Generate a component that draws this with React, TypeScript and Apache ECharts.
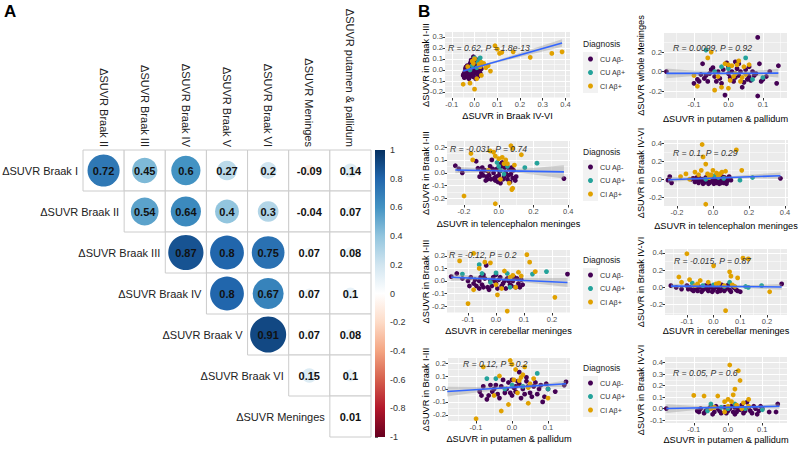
import React, { useEffect, useRef } from "react";
import * as echarts from "echarts";

const FONT = '"Liberation Sans", Arial, Helvetica, sans-serif';

// ---------- Panel A: correlation matrix ----------
const corrRowLabels = ["ΔSUVR Braak I", "ΔSUVR Braak II", "ΔSUVR Braak III", "ΔSUVR Braak IV", "ΔSUVR Braak V", "ΔSUVR Braak VI", "ΔSUVR Meninges"];
const corrColLabels = ["ΔSUVR Braak II", "ΔSUVR Braak III", "ΔSUVR Braak IV", "ΔSUVR Braak V", "ΔSUVR Braak VI", "ΔSUVR Meninges", "ΔSUVR putamen & pallidum"];
const corrValues = [
  [0.72, 0.45, 0.6, 0.27, 0.2, -0.09, 0.14],
  [0.54, 0.64, 0.4, 0.3, -0.04, 0.07],
  [0.87, 0.8, 0.75, 0.07, 0.08],
  [0.8, 0.67, 0.07, 0.1],
  [0.91, 0.07, 0.08],
  [0.15, 0.1],
  [0.01],
];
const colorbarRange = [-1, 1];
const RDBU = ["#67001F", "#B2182B", "#D6604D", "#F4A582", "#FDDBC7", "#FFFFFF", "#D1E5F0", "#92C5DE", "#4393C3", "#2166AC", "#053061"];

// ---------- Panel B: scatter data ----------
const groupNames = ["CU Aβ-", "CU Aβ+", "CI Aβ+"];
const groupColors = ["#440154", "#24A39B", "#E0A100"];

// 1: Braak IV-VI (x) vs Braak I-III (y)
const p1CUneg = [[-0.05,-0.05],[-0.045,-0.03],[-0.04,-0.06],[-0.035,-0.02],[-0.03,0.0],[-0.03,-0.04],[-0.025,0.02],[-0.02,-0.06],[-0.02,0.05],[-0.015,-0.02],[-0.01,0.03],[-0.01,-0.05],[-0.005,0.12],[-0.005,0.0],[0.0,-0.03],[0.0,0.06],[0.005,0.02],[0.01,-0.01],[0.01,0.08],[0.015,-0.06],[0.02,0.03],[0.02,0.0],[0.025,-0.03],[-0.04,0.01],[-0.045,-0.07],[0.03,0.01],[-0.015,0.09],[0.005,-0.08],[-0.025,-0.08],[0.01,0.05],[-0.035,-0.05],[0.0,0.03],[-0.02,-0.01],[0.015,0.02],[-0.008,-0.035],[-0.048,-0.04],[-0.042,-0.015],[-0.038,0.025],[-0.028,-0.065],[-0.022,-0.03],[-0.012,0.015],[-0.006,-0.06],[0.004,0.045],[0.012,-0.04],[0.018,0.06],[0.022,-0.015],[0.028,0.035],[-0.018,0.065],[0.008,0.095],[-0.032,0.04]];
const p1CUpos = [[0.0,0.11],[0.02,0.09],[-0.01,0.04],[0.01,0.02],[0.03,0.05],[-0.02,0.0],[0.015,0.07],[0.025,0.11]];
const p1CIpos = [[0.09,0.22],[0.1,0.19],[0.11,0.15],[0.12,0.16],[0.17,0.165],[0.245,0.115],[0.34,0.15],[0.385,0.165],[-0.05,-0.13],[-0.02,-0.12],[0.0,-0.175],[0.07,-0.01],[0.05,0.02],[0.03,0.07],[0.02,0.05],[0.01,-0.08],[-0.01,0.08],[0.04,0.06],[0.0,0.1],[0.03,-0.05],[-0.03,0.03],[0.06,0.04],[0.025,0.03],[-0.005,0.06]];
const p1Fit = [[-0.05,-0.01],[0.385,0.245]];
const p1Band = [[-0.05,-0.022,0.002],[0.0,0.012,0.026],[0.1,0.067,0.089],[0.2,0.118,0.156],[0.3,0.168,0.222],[0.385,0.21,0.28]];

// 2: putamen & pallidum (x) vs whole meninges (y)
const p2CUneg = [[-0.18,0.0],[-0.09,-0.08],[-0.08,-0.03],[-0.075,0.08],[-0.07,-0.07],[-0.06,-0.1],[-0.05,0.02],[-0.04,-0.05],[-0.03,0.0],[-0.02,-0.12],[-0.01,-0.24],[0.0,-0.02],[0.0,0.05],[0.01,0.0],[0.02,-0.06],[0.02,0.1],[0.03,-0.04],[0.04,-0.16],[0.05,0.02],[0.055,-0.08],[0.06,-0.05],[0.07,0.0],[0.08,-0.02],[0.085,0.35],[0.09,0.08],[0.1,-0.08],[0.11,-0.05],[0.14,-0.12],[0.145,0.06],[0.085,-0.25],[-0.1,-0.12],[-0.005,0.09],[0.035,0.0],[0.065,-0.09],[-0.055,-0.02],[0.015,-0.1],[-0.085,-0.1],[-0.065,-0.04],[-0.045,0.04],[-0.025,-0.07],[-0.015,0.02],[0.005,-0.06],[0.025,0.03],[0.045,-0.11],[0.075,-0.04],[0.095,-0.1],[0.12,0.0],[0.06,0.05],[-0.035,-0.1],[0.03,0.08]];
const p2CUpos = [[-0.065,0.22],[-0.04,0.0],[0.0,0.03],[0.02,-0.02],[0.05,0.14],[0.07,-0.08],[0.1,-0.06],[-0.02,0.05]];
const p2CIpos = [[-0.1,-0.04],[-0.09,-0.15],[-0.06,0.14],[-0.04,-0.19],[-0.02,-0.16],[-0.01,0.08],[0.0,0.07],[0.005,-0.09],[0.01,0.06],[0.015,-0.05],[0.02,-0.02],[0.025,0.07],[0.03,0.11],[0.04,-0.06],[0.045,0.05],[0.05,-0.03],[-0.05,0.2],[0.06,0.07],[-0.03,-0.05],[0.035,-0.1],[0.0,-0.17]];
const p2Fit = [[-0.18,-0.018],[0.145,-0.016]];
const p2Band = [[-0.18,-0.068,0.032],[-0.1,-0.045,0.01],[0.0,-0.034,0.0],[0.1,-0.048,0.014],[0.145,-0.06,0.028]];

// 3: telencephalon meninges (x) vs Braak I-III (y)
const p3CUneg = [[-0.25,0.055],[-0.23,0.03],[-0.21,0.0],[-0.12,0.035],[-0.1,0.0],[-0.09,-0.02],[-0.08,0.02],[-0.07,-0.03],[-0.06,0.01],[-0.05,0.05],[-0.045,-0.05],[-0.04,0.1],[-0.03,0.0],[-0.02,-0.06],[-0.01,0.03],[0.0,-0.02],[0.01,-0.08],[0.02,0.08],[0.03,-0.03],[0.04,0.0],[0.05,-0.05],[0.06,0.03],[0.07,-0.01],[0.08,-0.04],[0.085,0.02],[0.1,-0.03],[-0.13,0.09],[0.375,-0.045],[0.015,0.05],[-0.025,-0.04],[0.045,0.06],[0.065,-0.07],[-0.065,-0.05],[-0.095,0.04],[-0.075,-0.06],[-0.055,-0.02],[-0.035,0.03],[-0.015,-0.03],[0.005,0.01],[0.025,-0.05],[0.035,0.04],[0.055,-0.02],[0.075,0.04],[0.095,-0.06],[-0.005,-0.07],[0.012,0.07],[-0.11,-0.03]];
const p3CUpos = [[-0.01,0.08],[0.01,0.02],[0.03,-0.01],[0.05,0.05],[0.15,0.04],[0.22,0.075],[0.0,0.05]];
const p3CIpos = [[-0.16,0.15],[-0.15,0.1],[-0.2,-0.18],[-0.05,0.17],[-0.03,0.16],[-0.02,-0.24],[0.0,0.11],[0.02,0.12],[0.03,0.07],[0.05,0.07],[0.07,0.21],[0.08,0.19],[0.13,0.14],[0.08,-0.12],[0.075,-0.13],[0.06,-0.08],[0.04,0.1],[-0.06,0.02],[0.01,-0.05],[0.09,0.06],[-0.02,0.13]];
const p3Fit = [[-0.25,0.022],[0.375,0.007]];
const p3Band = [[-0.25,-0.004,0.048],[-0.1,0.006,0.034],[0.0,0.007,0.029],[0.1,0.001,0.029],[0.2,-0.014,0.038],[0.375,-0.045,0.059]];

// 4: telencephalon meninges (x) vs Braak IV-VI (y)
const p4CUneg = [[-0.25,-0.01],[-0.24,0.03],[-0.23,-0.04],[-0.12,0.0],[-0.1,-0.03],[-0.09,0.02],[-0.08,-0.04],[-0.07,-0.01],[-0.06,0.0],[-0.05,-0.04],[-0.04,0.02],[-0.03,-0.02],[-0.02,-0.04],[-0.01,0.0],[0.0,-0.03],[0.01,0.01],[0.02,-0.04],[0.03,0.0],[0.04,-0.02],[0.05,0.03],[0.06,-0.04],[0.07,0.0],[0.08,-0.02],[0.09,0.03],[0.375,0.01],[-0.015,0.04],[0.035,-0.05],[0.065,0.02],[-0.045,-0.02],[0.015,-0.02],[-0.095,-0.01],[-0.075,0.01],[-0.055,-0.05],[-0.035,0.0],[-0.025,-0.05],[-0.005,-0.02],[0.005,-0.05],[0.025,0.02],[0.045,-0.04],[0.055,0.0],[0.075,-0.05],[0.085,0.01],[-0.11,0.01],[0.1,-0.01]];
const p4CUpos = [[-0.02,0.02],[0.01,0.04],[0.03,0.02],[0.06,0.01],[0.15,-0.01],[0.22,0.02],[-0.04,0.0]];
const p4CIpos = [[-0.18,0.03],[-0.15,0.06],[-0.13,0.0],[-0.1,0.08],[-0.08,0.05],[-0.06,0.39],[-0.055,0.25],[-0.04,0.17],[-0.03,0.06],[-0.02,0.02],[0.0,0.1],[0.02,0.07],[0.03,0.04],[0.05,0.08],[0.07,0.09],[0.13,0.33],[0.16,0.1],[-0.04,-0.28],[-0.01,0.05],[0.04,0.06],[-0.065,0.1]];
const p4Fit = [[-0.25,-0.005],[0.375,0.04]];
const p4Band = [[-0.25,-0.035,0.025],[-0.1,-0.008,0.02],[0.0,0.0,0.024],[0.1,0.006,0.034],[0.2,0.01,0.05],[0.375,0.005,0.075]];

// 5: cerebellar meninges (x) vs Braak I-III (y)
const p5CUneg = [[-0.16,0.035],[-0.14,0.06],[-0.12,0.02],[-0.1,0.0],[-0.09,0.03],[-0.08,-0.02],[-0.07,-0.04],[-0.06,0.0],[-0.05,-0.03],[-0.04,0.02],[-0.035,0.125],[-0.03,-0.05],[-0.02,0.0],[-0.01,0.03],[0.0,-0.02],[0.01,0.01],[0.02,-0.04],[0.03,0.0],[0.04,0.02],[0.05,-0.03],[0.06,0.0],[0.07,-0.05],[0.08,-0.02],[0.09,0.01],[0.255,0.055],[-0.06,-0.06],[0.0,0.05],[0.065,0.03],[-0.025,-0.07],[0.085,-0.05],[-0.045,0.05],[-0.095,-0.04],[-0.075,0.01],[-0.055,0.03],[-0.045,-0.05],[-0.015,-0.04],[-0.005,0.0],[0.005,-0.06],[0.015,0.03],[0.025,-0.02],[0.035,-0.06],[0.045,0.0],[0.055,-0.04],[0.075,0.02],[0.095,-0.03]];
const p5CUpos = [[-0.12,0.055],[-0.06,0.13],[-0.05,0.06],[0.0,0.065],[0.04,0.06],[0.05,-0.05],[0.13,0.055],[0.18,0.075],[-0.02,-0.01]];
const p5CIpos = [[-0.13,0.16],[-0.1,-0.18],[-0.08,0.22],[-0.06,0.1],[-0.04,0.15],[-0.02,0.145],[0.0,-0.03],[0.005,-0.11],[0.03,0.08],[0.04,-0.24],[0.05,0.03],[0.06,0.045],[0.07,-0.05],[0.08,0.07],[0.11,0.21],[0.12,0.15],[0.14,0.075],[0.21,-0.13],[-0.08,-0.07],[0.02,-0.06],[0.09,0.04]];
const p5Fit = [[-0.16,0.03],[0.255,-0.012]];
const p5Band = [[-0.16,0.002,0.058],[-0.05,0.008,0.034],[0.0,0.006,0.03],[0.1,-0.01,0.024],[0.255,-0.048,0.024]];

// 6: cerebellar meninges (x) vs Braak IV-VI (y)
const p6CUneg = [[-0.16,0.02],[-0.14,0.0],[-0.12,-0.02],[-0.1,0.02],[-0.09,0.0],[-0.08,-0.03],[-0.07,0.01],[-0.06,-0.04],[-0.05,0.0],[-0.04,-0.03],[-0.03,0.02],[-0.02,-0.04],[-0.01,0.0],[0.0,-0.03],[0.01,0.01],[0.02,-0.02],[0.03,0.03],[0.04,-0.04],[0.05,0.0],[0.06,-0.03],[0.07,0.02],[0.08,-0.01],[0.09,-0.04],[0.255,0.04],[-0.035,0.0],[0.015,-0.05],[0.055,0.03],[-0.065,-0.01],[0.1,-0.05],[-0.095,-0.02],[-0.075,-0.04],[-0.055,0.01],[-0.045,-0.05],[-0.025,-0.02],[-0.005,-0.05],[0.005,0.0],[0.025,-0.04],[0.035,0.0],[0.045,-0.02],[0.065,-0.05],[0.075,0.0],[0.085,-0.03],[-0.015,0.02]];
const p6CUpos = [[-0.08,0.05],[-0.04,0.02],[0.0,0.03],[0.04,0.01],[0.06,0.06],[0.12,0.01],[0.18,0.02],[0.13,0.0]];
const p6CIpos = [[-0.13,0.12],[-0.12,0.06],[-0.1,0.39],[-0.09,0.09],[-0.07,0.02],[-0.05,0.08],[-0.02,0.06],[0.0,0.25],[0.02,0.05],[0.04,0.02],[0.045,-0.27],[0.06,0.18],[0.065,0.13],[0.07,0.03],[0.09,0.11],[0.11,0.34],[0.13,0.33],[0.21,-0.05],[-0.06,0.04],[0.01,0.04],[0.08,0.01]];
const p6Fit = [[-0.16,0.015],[0.255,0.005]];
const p6Band = [[-0.16,-0.012,0.042],[0.0,0.0,0.024],[0.1,-0.004,0.024],[0.255,-0.028,0.038]];

// 7: putamen & pallidum (x) vs Braak I-III (y)
const p7CUneg = [[-0.18,-0.02],[-0.09,-0.02],[-0.08,0.02],[-0.07,-0.08],[-0.065,-0.05],[-0.06,0.03],[-0.05,0.0],[-0.04,-0.04],[-0.03,0.02],[-0.02,-0.03],[-0.01,0.05],[0.0,-0.05],[0.005,0.01],[0.01,-0.02],[0.02,0.04],[0.025,-0.07],[0.03,0.0],[0.04,0.06],[0.05,-0.03],[0.06,0.02],[0.07,-0.04],[0.08,0.03],[0.09,-0.06],[0.1,0.0],[0.15,0.055],[0.145,0.03],[0.02,0.13],[0.04,0.09],[-0.025,0.07],[0.085,-0.1],[0.015,0.06],[0.065,0.05],[-0.085,-0.05],[-0.055,-0.02],[-0.045,0.03],[-0.035,-0.07],[-0.015,0.0],[-0.005,-0.03],[0.0,0.07],[0.01,0.02],[0.035,-0.04],[0.045,0.02],[0.055,-0.06],[0.075,0.0],[0.095,0.04],[0.12,-0.02]];
const p7CUpos = [[-0.07,0.08],[-0.045,0.08],[0.0,0.03],[0.03,0.02],[0.07,0.12],[0.1,0.0],[-0.02,0.0]];
const p7CIpos = [[-0.1,-0.23],[-0.08,0.17],[-0.03,-0.17],[-0.01,-0.12],[-0.005,0.22],[0.0,0.19],[0.005,0.07],[0.01,0.15],[0.02,0.065],[0.03,0.11],[0.045,-0.11],[0.05,0.04],[0.06,0.08],[0.1,-0.07],[-0.05,-0.05],[0.015,-0.03],[0.035,0.17],[-0.035,0.1],[0.025,0.09],[0.045,0.01]];
const p7Fit = [[-0.18,-0.02],[0.15,0.04]];
const p7Band = [[-0.18,-0.058,0.018],[-0.1,-0.028,0.016],[0.0,0.002,0.024],[0.1,0.016,0.046],[0.15,0.016,0.064]];

// 8: putamen & pallidum (x) vs Braak IV-VI (y)
const p8CUneg = [[-0.18,0.0],[-0.09,-0.02],[-0.08,0.0],[-0.07,-0.04],[-0.06,-0.01],[-0.05,0.02],[-0.04,-0.03],[-0.03,0.0],[-0.02,-0.04],[-0.01,0.01],[0.0,-0.02],[0.01,0.02],[0.02,-0.05],[0.03,0.0],[0.04,0.03],[0.05,-0.02],[0.06,0.01],[0.07,-0.04],[0.08,0.0],[0.09,-0.02],[0.1,0.0],[0.145,0.04],[0.14,-0.03],[0.055,0.055],[-0.065,-0.02],[0.015,-0.03],[0.035,-0.01],[0.075,0.02],[-0.085,-0.03],[-0.055,0.0],[-0.045,-0.05],[-0.035,0.02],[-0.025,-0.02],[-0.005,-0.04],[0.005,0.0],[0.025,-0.03],[0.045,-0.04],[0.065,-0.02],[0.085,-0.05],[0.095,0.02],[0.12,-0.03],[0.02,0.01]];
const p8CUpos = [[-0.06,-0.02],[-0.05,0.04],[-0.02,0.01],[0.02,0.04],[0.05,0.0],[0.1,-0.01],[0.0,0.0]];
const p8CIpos = [[-0.1,0.115],[-0.07,0.11],[-0.05,0.0],[-0.03,0.11],[-0.01,0.06],[0.0,0.08],[0.005,0.38],[0.01,0.06],[0.02,0.17],[0.025,0.03],[0.03,0.33],[0.035,0.245],[0.04,0.0],[0.06,0.08],[-0.01,-0.03],[0.015,0.12],[0.045,0.05],[-0.04,0.01],[0.0,0.02],[0.06,0.02]];
const p8Fit = [[-0.18,0.0],[0.15,0.02]];
const p8Band = [[-0.18,-0.038,0.038],[-0.1,-0.014,0.024],[0.0,0.0,0.02],[0.1,0.0,0.03],[0.15,-0.004,0.044]];

const corLabels = ["R = 0.62, P = 1.8e-13", "R = 0.0099, P = 0.92", "R = -0.031, P = 0.74", "R = 0.1, P = 0.29", "R = -0.12, P = 0.2", "R = -0.015, P = 0.87", "R = 0.12, P = 0.2", "R = 0.05, P = 0.6"];
const xTitles = ["ΔSUVR in Braak IV-VI", "ΔSUVR in putamen & pallidum", "ΔSUVR in telencephalon meninges", "ΔSUVR in telencephalon meninges", "ΔSUVR in cerebellar meninges", "ΔSUVR in cerebellar meninges", "ΔSUVR in putamen & pallidum", "ΔSUVR in putamen & pallidum"];
const yTitles = ["ΔSUVR in Braak I-III", "ΔSUVR whole Meninges", "ΔSUVR in Braak I-III", "ΔSUVR in Braak IV-VI", "ΔSUVR in Braak I-III", "ΔSUVR in Braak IV-VI", "ΔSUVR in Braak I-III", "ΔSUVR in Braak IV-VI"];
const xTickValues = [[-0.1,0,0.1,0.2,0.3,0.4],[-0.1,0,0.1],[-0.2,0,0.2,0.4],[-0.2,0,0.2,0.4],[-0.1,0,0.1,0.2],[-0.1,0,0.1,0.2],[-0.1,0,0.1],[-0.1,0,0.1]];
const yTickValues = [[-0.2,-0.1,0,0.1,0.2,0.3],[-0.2,0,0.2],[-0.2,-0.1,0,0.1,0.2],[-0.2,0,0.2,0.4],[-0.2,-0.1,0,0.1,0.2],[-0.2,0,0.2,0.4],[-0.2,-0.1,0,0.1,0.2],[-0.1,0,0.1,0.2,0.3,0.4]];
const xLimits = [[-0.13,0.42],[-0.187,0.17],[-0.298,0.41],[-0.272,0.417],[-0.175,0.264],[-0.182,0.275],[-0.178,0.161],[-0.184,0.172]];
const yLimits = [[-0.255,0.345],[-0.27,0.395],[-0.25,0.247],[-0.3,0.44],[-0.255,0.247],[-0.32,0.445],[-0.247,0.239],[-0.126,0.45]];

const panelGroups = [
  [p1CUneg, p1CUpos, p1CIpos], [p2CUneg, p2CUpos, p2CIpos], [p3CUneg, p3CUpos, p3CIpos], [p4CUneg, p4CUpos, p4CIpos],
  [p5CUneg, p5CUpos, p5CIpos], [p6CUneg, p6CUpos, p6CIpos], [p7CUneg, p7CUpos, p7CIpos], [p8CUneg, p8CUpos, p8CIpos],
];
const panelFits = [p1Fit, p2Fit, p3Fit, p4Fit, p5Fit, p6Fit, p7Fit, p8Fit];
const panelBands = [p1Band, p2Band, p3Band, p4Band, p5Band, p6Band, p7Band, p8Band];

// layout (pixels)
const panelLayout = [
  { left: 445, top: 32, width: 125, height: 66, xGap: 13.4, yGap: 14.9, rx: 448, ry: 48 },
  { left: 664, top: 33, width: 123, height: 65, xGap: 16.4, yGap: 18.4, rx: 673, ry: 48 },
  { left: 447, top: 141, width: 123, height: 64, xGap: 14.4, yGap: 16.9, rx: 450, ry: 149 },
  { left: 664, top: 140, width: 124, height: 66, xGap: 15.4, yGap: 18.4, rx: 673, ry: 153 },
  { left: 447, top: 250, width: 123, height: 63, xGap: 13.4, yGap: 16.9, rx: 449, ry: 255 },
  { left: 665, top: 249, width: 122, height: 66, xGap: 11.9, yGap: 19.4, rx: 674, ry: 261 },
  { left: 448, top: 358, width: 122, height: 63, xGap: 13.4, yGap: 17.9, rx: 463, ry: 364 },
  { left: 665, top: 357, width: 122, height: 66, xGap: 12.4, yGap: 19.4, rx: 673, ry: 373 },
];
const legendFirstItemY = [59, 167, 275, 383];

function hexToRgb(h: string) {
  return [parseInt(h.slice(1, 3), 16), parseInt(h.slice(3, 5), 16), parseInt(h.slice(5, 7), 16)];
}
function corrColor(v: number) {
  const t = ((v + 1) / 2) * 10;
  const i = Math.max(0, Math.min(9, Math.floor(t)));
  const f = t - i;
  const a = hexToRgb(RDBU[i]);
  const b = hexToRgb(RDBU[i + 1]);
  const c = a.map((x, k) => Math.round(x + (b[k] - x) * f));
  return `rgb(${c[0]},${c[1]},${c[2]})`;
}
function minorBreaks(ticks: number[], min: number, max: number) {
  const step = ticks[1] - ticks[0];
  const out: number[] = [];
  for (let i = -1; i < ticks.length; i++) {
    const m = +(ticks[0] + (i + 0.5) * step).toFixed(4);
    if (m > min && m < max) out.push(m);
  }
  return out;
}

function buildOption() {
  const grids: any[] = [
    { left: 83, top: 150, width: 288, height: 287 },
    { left: 375, top: 150, width: 10, height: 287 },
  ];
  const xAxes: any[] = [
    {
      type: "category", gridIndex: 0, data: corrColLabels, position: "top",
      axisLine: { show: false }, axisTick: { show: false }, splitLine: { show: false },
      axisLabel: { rotate: 90, interval: 0, fontSize: 11, color: "#222", margin: 3, fontFamily: FONT },
    },
    { type: "value", gridIndex: 1, min: 0, max: 1, show: false },
  ];
  const yAxes: any[] = [
    { type: "category", gridIndex: 0, data: corrRowLabels, inverse: true, show: false },
    {
      type: "value", gridIndex: 1, min: colorbarRange[0], max: colorbarRange[1], interval: 0.2, position: "right",
      axisLine: { show: false }, splitLine: { show: false },
      axisTick: { show: true, length: 3, lineStyle: { color: "#666" } },
      axisLabel: { fontSize: 9, color: "#333", margin: 5, fontFamily: FONT },
    },
  ];
  const series: any[] = [
    {
      type: "custom", xAxisIndex: 0, yAxisIndex: 0, silent: true,
      data: corrValues.flatMap((row, r) => row.map((v, k) => [r + k, r, v])),
      renderItem: (params: any, api: any) => {
        const col = api.value(0), row = api.value(1), v = api.value(2);
        const c = api.coord([col, row]);
        const s = api.size([1, 1]);
        const w = s[0], h = s[1];
        const children: any[] = [
          { type: "rect", shape: { x: c[0] - w / 2, y: c[1] - h / 2, width: w, height: h }, style: { fill: "#fff", stroke: "#CCCCCC", lineWidth: 1 } },
          { type: "circle", shape: { cx: c[0], cy: c[1], r: 0.459 * w * Math.sqrt(Math.abs(v)) }, style: { fill: corrColor(v) } },
          { type: "text", style: { text: String(v), x: c[0], y: c[1], align: "center", verticalAlign: "middle", fontSize: 11, fontWeight: "bold", fontFamily: FONT, fill: "#111" } },
        ];
        if (col === row) {
          children.push({ type: "text", style: { text: corrRowLabels[row], x: c[0] - w / 2 - 5, y: c[1], align: "right", verticalAlign: "middle", fontSize: 11, fontFamily: FONT, fill: "#222" } });
        }
        return { type: "group", children };
      },
    },
    {
      type: "custom", xAxisIndex: 1, yAxisIndex: 1, silent: true, data: [[0, 0]],
      renderItem: (params: any, api: any) => {
        const a = api.coord([0, colorbarRange[1]]);
        const b = api.coord([1, colorbarRange[0]]);
        const stops = RDBU.slice().reverse().map((c, i) => ({ offset: i / 10, color: c }));
        return {
          type: "rect", shape: { x: a[0], y: a[1], width: b[0] - a[0], height: b[1] - a[1] },
          style: { fill: new echarts.graphic.LinearGradient(0, 0, 0, 1, stops) },
        };
      },
    },
  ];

  const graphics: any[] = [
    { type: "text", x: 4, y: 3, style: { text: "A", fontSize: 17, fontWeight: "bold", fontFamily: FONT, fill: "#000" } },
    { type: "text", x: 418, y: 3, style: { text: "B", fontSize: 17, fontWeight: "bold", fontFamily: FONT, fill: "#000" } },
  ];

  const legends: any[] = [];

  panelLayout.forEach((L, p) => {
    const gi = grids.length;
    grids.push({ left: L.left, top: L.top, width: L.width, height: L.height, show: true, backgroundColor: "#EBEBEB", borderWidth: 0 });
    const [xMin, xMax] = xLimits[p];
    const [yMin, yMax] = yLimits[p];
    const xi = xAxes.length;
    const yi = yAxes.length;
    const fmt = (v: number) => (Math.abs(v) < 1e-9 ? "0.0" : v.toFixed(1));
    const tickStyle = { show: true, length: 2.5, lineStyle: { color: "#333", width: 1 } };
    const labelStyle = { fontSize: 7.5, color: "#4D4D4D", margin: 2, formatter: fmt, fontFamily: FONT };
    const nameStyle = { fontSize: 9.2, color: "#000", fontFamily: FONT };
    xAxes.push({
      type: "value", gridIndex: gi, min: xMin, max: xMax, position: "bottom",
      axisLine: { show: false, onZero: false },
      axisTick: { ...tickStyle, customValues: xTickValues[p] },
      axisLabel: { ...labelStyle, customValues: xTickValues[p] },
      splitLine: { show: true, lineStyle: { color: "#FFFFFF", width: 1 } },
      name: xTitles[p], nameLocation: "middle", nameGap: L.xGap, nameMoveOverlap: false, nameTextStyle: nameStyle,
    });
    xAxes.push({
      type: "value", gridIndex: gi, min: xMin, max: xMax, position: "top",
      axisLine: { show: false, onZero: false }, axisLabel: { show: false },
      axisTick: { show: false, length: 0, lineStyle: { color: "rgba(0,0,0,0)" }, customValues: minorBreaks(xTickValues[p], xMin, xMax) },
      splitLine: { show: true, lineStyle: { color: "#FFFFFF", width: 0.5 } },
    });
    yAxes.push({
      type: "value", gridIndex: gi, min: yMin, max: yMax, position: "left",
      axisLine: { show: false, onZero: false },
      axisTick: { ...tickStyle, customValues: yTickValues[p] },
      axisLabel: { ...labelStyle, customValues: yTickValues[p] },
      splitLine: { show: true, lineStyle: { color: "#FFFFFF", width: 1 } },
      name: yTitles[p], nameLocation: "middle", nameGap: L.yGap, nameMoveOverlap: false, nameTextStyle: nameStyle,
    });
    yAxes.push({
      type: "value", gridIndex: gi, min: yMin, max: yMax, position: "right",
      axisLine: { show: false, onZero: false }, axisLabel: { show: false },
      axisTick: { show: false, length: 0, lineStyle: { color: "rgba(0,0,0,0)" }, customValues: minorBreaks(yTickValues[p], yMin, yMax) },
      splitLine: { show: true, lineStyle: { color: "#FFFFFF", width: 0.5 } },
    });

    panelGroups[p].forEach((pts, g) => {
      series.push({
        type: "scatter", name: groupNames[g], xAxisIndex: xi, yAxisIndex: yi, data: pts,
        symbol: "circle", symbolSize: 4.8, itemStyle: { color: groupColors[g], opacity: 1 }, silent: true, z: 2,
      });
    });
    const band = panelBands[p];
    series.push({
      type: "custom", xAxisIndex: xi, yAxisIndex: yi, data: band, silent: true, z: 3,
      renderItem: (params: any, api: any) => {
        if (params.dataIndex !== 0) return null;
        const upper = band.map((b) => api.coord([b[0], b[2]]));
        const lower = band.slice().reverse().map((b) => api.coord([b[0], b[1]]));
        return { type: "polygon", shape: { points: upper.concat(lower) }, style: { fill: "rgba(153,153,153,0.4)" } };
      },
    });
    series.push({
      type: "line", xAxisIndex: xi, yAxisIndex: yi, data: panelFits[p], symbol: "none", silent: true, z: 4,
      lineStyle: { color: "#3366FF", width: 1.6 },
    });
    graphics.push({
      type: "text", x: L.rx, y: L.ry,
      style: { text: corLabels[p], fontSize: 8.6, fontStyle: "italic", fontFamily: FONT, fill: "#333", verticalAlign: "middle" },
      z: 10,
    });
  });

  legendFirstItemY.forEach((y0) => {
    graphics.push({ type: "text", x: 583, y: y0 - 15, style: { text: "Diagnosis", fontSize: 8.5, fontFamily: FONT, fill: "#1a1a1a", verticalAlign: "middle" } });
    graphics.push({ type: "rect", shape: { x: 583, y: y0 - 7, width: 15, height: 41 }, style: { fill: "#F2F2F2" }, z: 0 });
    legends.push({
      data: groupNames, orient: "vertical", left: 588, top: y0 - 6, padding: 0,
      icon: "circle", itemWidth: 5, itemHeight: 5, itemGap: 1.5, selectedMode: false,
      textStyle: { fontSize: 7.2, color: "#333", lineHeight: 12, fontFamily: FONT, padding: [0, 0, 0, 2] },
    });
  });

  return {
    animation: false,
    backgroundColor: "#FFFFFF",
    textStyle: { fontFamily: FONT },
    grid: grids,
    xAxis: xAxes,
    yAxis: yAxes,
    legend: legends,
    graphic: graphics,
    series,
  };
}

export default function App() {
  const ref = useRef<HTMLDivElement>(null);
  useEffect(() => {
    if (!ref.current) return;
    const chart = echarts.init(ref.current, null, { renderer: "svg" });
    chart.setOption(buildOption() as any);
    return () => chart.dispose();
  }, []);
  return <div ref={ref} style={{ position: "fixed", left: 0, top: 0, width: 800, height: 449 }} />;
}
